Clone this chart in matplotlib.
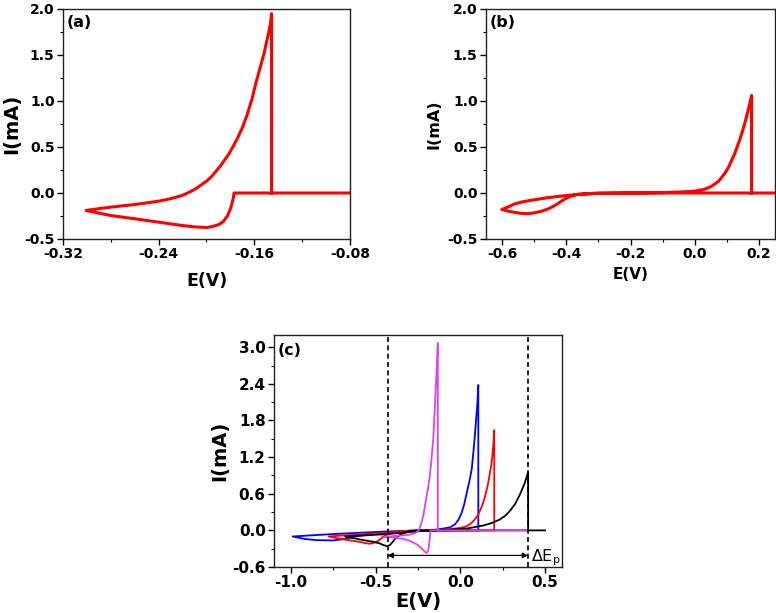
import matplotlib
matplotlib.use("Agg")
import matplotlib.pyplot as plt
from matplotlib.ticker import MultipleLocator, FixedLocator

plt.rcParams['font.family'] = ['DejaVu Sans']
plt.rcParams['font.weight'] = 'bold'
plt.rcParams['axes.unicode_minus'] = False

# ---------------- data: panel (a) ----------------
a_E = [-0.08, -0.177, -0.1775, -0.1789, -0.1805, -0.1825, -0.186, -0.1895, -0.195, -0.20,
       -0.21, -0.2205, -0.24, -0.26, -0.28, -0.3006,
       -0.29, -0.28, -0.26, -0.24, -0.23, -0.2205, -0.215, -0.209, -0.20, -0.196, -0.192,
       -0.188, -0.1837, -0.181, -0.178, -0.1739, -0.170, -0.166, -0.162, -0.1586, -0.155,
       -0.1518, -0.150, -0.148, -0.1465, -0.1456, -0.1456]
a_I = [0.0, 0.0, -0.05, -0.125, -0.19, -0.25, -0.31, -0.342, -0.365, -0.375,
       -0.368, -0.353, -0.317, -0.28, -0.245, -0.19,
       -0.17, -0.154, -0.125, -0.089, -0.062, -0.027, 0.005, 0.046, 0.128, 0.175, 0.237,
       0.30, 0.38, 0.43, 0.50, 0.60, 0.71, 0.85, 1.02, 1.20, 1.37,
       1.52, 1.63, 1.74, 1.84, 1.95, 0.0]

# ---------------- data: panel (b) ----------------
b_E = [0.25, -0.30, -0.362, -0.383, -0.404, -0.42, -0.436, -0.456, -0.477, -0.50, -0.519,
       -0.54, -0.561, -0.58, -0.601,
       -0.58, -0.561, -0.535, -0.509, -0.48, -0.456, -0.42, -0.383, -0.35, -0.30, -0.2, -0.1,
       -0.05, 0.0, 0.03, 0.053, 0.075, 0.095, 0.106, 0.116, 0.125, 0.132, 0.14, 0.147, 0.155,
       0.162, 0.17, 0.177, 0.177]
b_I = [0.0, 0.0, -0.014, -0.029, -0.065, -0.10, -0.137, -0.172, -0.198, -0.216, -0.224,
       -0.222, -0.21, -0.198, -0.18,
       -0.15, -0.119, -0.095, -0.079, -0.063, -0.05, -0.035, -0.022, -0.012, -0.005, 0.0, 0.004,
       0.01, 0.02, 0.04, 0.074, 0.13, 0.22, 0.285, 0.364, 0.43, 0.50, 0.575, 0.654, 0.745,
       0.84, 0.95, 1.06, 0.0]

# ---------------- data: panel (c) ----------------
blue_E = [0.106, -0.25, -0.35, -0.45, -0.55, -0.62, -0.68, -0.75, -0.85, -0.92, -0.99,
          -0.90, -0.75, -0.60, -0.45, -0.30, -0.15, -0.10, -0.06, -0.031, -0.01, 0.008, 0.023,
          0.038, 0.053, 0.067, 0.077, 0.087, 0.094, 0.100, 0.106, 0.106]
blue_I = [0.0, -0.005, -0.02, -0.04, -0.07, -0.10, -0.14, -0.165, -0.16, -0.14, -0.10,
          -0.085, -0.06, -0.04, -0.02, -0.005, 0.01, 0.03, 0.05, 0.10, 0.18, 0.29, 0.43,
          0.62, 0.80, 1.0, 1.28, 1.6, 1.85, 2.05, 2.38, 0.0]

red_E = [0.20, -0.30, -0.336, -0.375, -0.415, -0.454, -0.493, -0.532, -0.56, -0.591, -0.65,
         -0.69, -0.778, -0.70, -0.60, -0.50, -0.43, -0.35, -0.25, -0.10, 0.0, 0.03, 0.057,
         0.08, 0.106, 0.128, 0.146, 0.162, 0.175, 0.183, 0.19, 0.195, 0.20, 0.20]
red_I = [0.0, -0.005, -0.015, -0.03, -0.05, -0.10, -0.19, -0.22, -0.21, -0.19, -0.165,
         -0.148, -0.10, -0.085, -0.07, -0.05, -0.035, -0.02, -0.005, 0.01, 0.04, 0.06, 0.10,
         0.16, 0.26, 0.40, 0.56, 0.74, 0.95, 1.08, 1.25, 1.42, 1.64, 0.0]

black_E = [0.50, -0.20, -0.25, -0.30, -0.33, -0.36, -0.38, -0.40, -0.415, -0.43, -0.45, -0.48,
           -0.51, -0.57, -0.646, -0.68, -0.55, -0.43, -0.35, -0.25, -0.10, 0.038, 0.136, 0.185,
           0.234, 0.265, 0.293, 0.325, 0.352, 0.378, 0.40, 0.40]
black_I = [0.0, 0.0, -0.005, -0.01, -0.04, -0.08, -0.12, -0.19, -0.24, -0.26, -0.245, -0.21,
           -0.19, -0.16, -0.12, -0.10, -0.08, -0.06, -0.04, -0.015, 0.005, 0.03, 0.08, 0.12,
           0.18, 0.24, 0.32, 0.44, 0.59, 0.76, 0.95, 0.0]

mag_E = [0.40, -0.176, -0.178, -0.183, -0.19, -0.198, -0.21, -0.23, -0.257, -0.30, -0.336,
         -0.40, -0.45, -0.40, -0.35, -0.30, -0.27, -0.255, -0.245, -0.232, -0.218, -0.203,
         -0.19, -0.18, -0.17, -0.16, -0.151, -0.142, -0.133, -0.133]
mag_I = [0.0, 0.0, -0.05, -0.2, -0.33, -0.37, -0.35, -0.29, -0.23, -0.17, -0.14,
         -0.115, -0.105, -0.095, -0.085, -0.07, -0.05, -0.02, 0.0, 0.10, 0.25, 0.50,
         0.70, 0.90, 1.18, 1.50, 2.0, 2.5, 3.07, 0.0]

dE_left, dE_right = -0.43, 0.40
arrow_I = -0.41

# ---------------- figure ----------------
W, H = 776, 613
fig = plt.figure(figsize=(W / 100, H / 100), dpi=100)


def rect(l, t, r, b):
    return [l / W, (H - b) / H, (r - l) / W, (b - t) / H]


def style(ax, tick_fs):
    for s in ax.spines.values():
        s.set_linewidth(1.0)
        s.set_color('#222222')
    ax.tick_params(which='major', direction='out', length=4, width=1.0,
                   labelsize=tick_fs, pad=2, top=False, right=False)
    ax.tick_params(which='minor', direction='out', length=2.5, width=0.8,
                   top=False, right=False)
    for lab in ax.get_xticklabels() + ax.get_yticklabels():
        lab.set_fontweight('bold')


ax_a = fig.add_axes(rect(63, 9, 350, 239))
ax_a.plot(a_E, a_I, color='#ff0000', lw=2.2, solid_joinstyle='round')
ax_a.set_xlim(-0.32, -0.08)
ax_a.set_ylim(-0.5, 2.0)
ax_a.xaxis.set_major_locator(FixedLocator([-0.32, -0.24, -0.16, -0.08]))
ax_a.xaxis.set_minor_locator(FixedLocator([-0.28, -0.20, -0.12]))
ax_a.yaxis.set_major_locator(MultipleLocator(0.5))
ax_a.yaxis.set_minor_locator(MultipleLocator(0.25))
ax_a.set_xticklabels(['-0.32', '-0.24', '-0.16', '-0.08'])
ax_a.set_xlabel('E(V)', fontsize=12.5, fontweight='bold', labelpad=8)
ax_a.set_ylabel('I(mA)', fontsize=14, fontweight='bold', labelpad=2)
ax_a.text(0.012, 0.975, '(a)', transform=ax_a.transAxes, ha='left', va='top',
          fontsize=11.5, fontweight='bold')
style(ax_a, 10)

ax_b = fig.add_axes(rect(486, 9, 775, 239))
ax_b.plot(b_E, b_I, color='#ff0000', lw=2.2, solid_joinstyle='round')
ax_b.set_xlim(-0.65, 0.25)
ax_b.set_ylim(-0.5, 2.0)
ax_b.xaxis.set_major_locator(MultipleLocator(0.2))
ax_b.xaxis.set_minor_locator(MultipleLocator(0.1))
ax_b.yaxis.set_major_locator(MultipleLocator(0.5))
ax_b.yaxis.set_minor_locator(MultipleLocator(0.25))
ax_b.set_xlabel('E(V)', fontsize=11, fontweight='bold', labelpad=4)
ax_b.set_ylabel('I(mA)', fontsize=11.5, fontweight='bold', labelpad=4)
ax_b.text(0.012, 0.975, '(b)', transform=ax_b.transAxes, ha='left', va='top',
          fontsize=11.5, fontweight='bold')
style(ax_b, 10)

ax_c = fig.add_axes(rect(274, 335, 562, 567))
ax_c.plot(blue_E, blue_I, color='#0000ff', lw=1.3)
ax_c.plot(red_E, red_I, color='#ff0000', lw=1.3)
ax_c.plot(black_E, black_I, color='#000000', lw=1.3)
ax_c.plot(mag_E, mag_I, color='#e040f0', lw=1.3)
ax_c.axvline(dE_left, color='black', lw=1.2, ls=(0, (3, 2)))
ax_c.axvline(dE_right, color='black', lw=1.2, ls=(0, (3, 2)))
ax_c.annotate('', xy=(dE_right, arrow_I), xytext=(dE_left, arrow_I),
              arrowprops=dict(arrowstyle='<|-|>', color='black', lw=0.9,
                              mutation_scale=8, shrinkA=0, shrinkB=0))
ax_c.text(dE_right + 0.015, arrow_I - 0.03, 'ΔE$_\\mathregular{p}$', fontsize=11.5,
          fontweight='normal', ha='left', va='center')
ax_c.set_xlim(-1.1, 0.6)
ax_c.set_ylim(-0.6, 3.2)
ax_c.xaxis.set_major_locator(MultipleLocator(0.5))
ax_c.xaxis.set_minor_locator(MultipleLocator(0.25))
ax_c.yaxis.set_major_locator(FixedLocator([-0.6, 0.0, 0.6, 1.2, 1.8, 2.4, 3.0]))
ax_c.yaxis.set_minor_locator(FixedLocator([-0.3, 0.3, 0.9, 1.5, 2.1, 2.7]))
ax_c.set_yticklabels(['-0.6', '0.0', '0.6', '1.2', '1.8', '2.4', '3.0'])
ax_c.set_xlabel('E(V)', fontsize=14, fontweight='bold', labelpad=1)
ax_c.set_ylabel('I(mA)', fontsize=14, fontweight='bold', labelpad=2)
ax_c.text(0.012, 0.965, '(c)', transform=ax_c.transAxes, ha='left', va='top',
          fontsize=11.5, fontweight='bold')
style(ax_c, 11)

fig.savefig('out.png', dpi=100)
